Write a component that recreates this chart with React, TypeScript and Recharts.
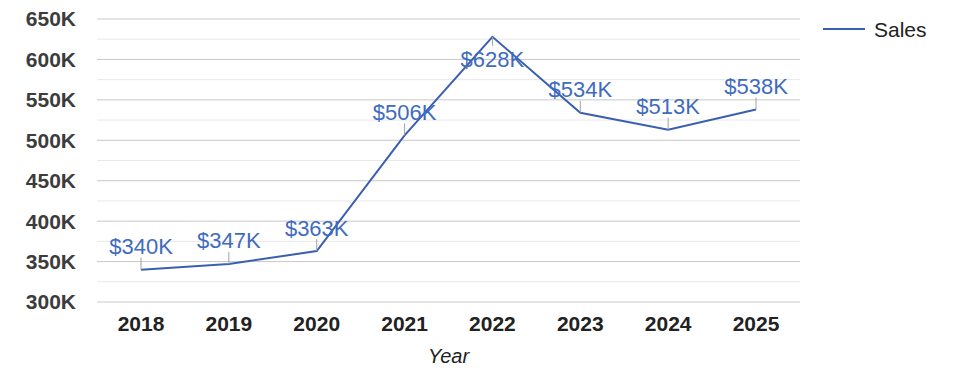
import React from "react";
import { LineChart, Line, XAxis, YAxis, CartesianGrid, LabelList } from "recharts";

const years = ["2018", "2019", "2020", "2021", "2022", "2023", "2024", "2025"];
const sales = [340000, 347000, 363000, 506000, 628000, 534000, 513000, 538000];
const yTicks = [300000, 350000, 400000, 450000, 500000, 550000, 600000, 650000];
const minorTicks = [325000, 375000, 425000, 475000, 525000, 575000, 625000];
const seriesName = "Sales";
const xTitle = "Year";

const data = years.map((y, i) => ({ year: y, sales: sales[i] }));
const maxVal = Math.max(...sales);
const FONT = "'Liberation Sans', Arial, sans-serif";
const BLUE = "#3a5fb0";

const fmtK = (v: number) => `${Math.round(v / 1000)}K`;

const DataLabel = (props: any) => {
  const { x, y, value } = props;
  const below = value === maxVal;
  const ly2 = below ? y + 9 : y - 12;
  const ty = below ? y + 23 : y - 23;
  return (
    <g>
      <line x1={x} y1={y} x2={x} y2={ly2} stroke="#a0a0a0" strokeWidth={1} />
      <text x={x} y={ty} textAnchor="middle" dominantBaseline="central" fill="#3f6bbf" fontSize={22} fontFamily={FONT}>
        {`$${fmtK(value)}`}
      </text>
    </g>
  );
};

export default function App() {
  return (
    <div style={{ position: "fixed", left: 0, top: 0, width: 975, height: 378, background: "#fff" }}>
      <LineChart width={975} height={378} data={data} margin={{ top: 19, right: 175, bottom: 0, left: 0 }}>
        <CartesianGrid horizontalValues={minorTicks} vertical={false} stroke="#e8e8e8" />
        <CartesianGrid horizontalValues={yTicks} vertical={false} stroke="#c8c8c8" />
        <XAxis
          dataKey="year"
          padding={{ left: 44, right: 44 }}
          axisLine={false}
          tickLine={false}
          tickMargin={8}
          height={76}
          tick={{ fill: "#222", fontSize: 21, fontWeight: "bold", fontFamily: FONT }}
          label={{ value: xTitle, position: "insideBottom", offset: 15, fill: "#222", fontSize: 20, fontStyle: "italic", fontFamily: FONT }}
        />
        <YAxis
          domain={[300000, 650000]}
          ticks={yTicks}
          tickFormatter={fmtK}
          axisLine={false}
          tickLine={false}
          width={97}
          tickMargin={15}
          tick={{ fill: "#3c3c3c", fontSize: 21, fontWeight: "bold", fontFamily: FONT }}
        />
        <Line type="linear" dataKey="sales" name={seriesName} stroke={BLUE} strokeWidth={2} dot={false} isAnimationActive={false}>
          <LabelList dataKey="sales" content={<DataLabel />} />
        </Line>
      </LineChart>
      <div style={{ position: "absolute", left: 820, top: 14 }}>
        <svg width={150} height={30}>
          <line x1={3} y1={15} x2={45} y2={15} stroke={BLUE} strokeWidth={2} />
          <text x={54} y={15} dominantBaseline="central" fontSize={21} fontFamily={FONT} fill="#222">
            {seriesName}
          </text>
        </svg>
      </div>
    </div>
  );
}
